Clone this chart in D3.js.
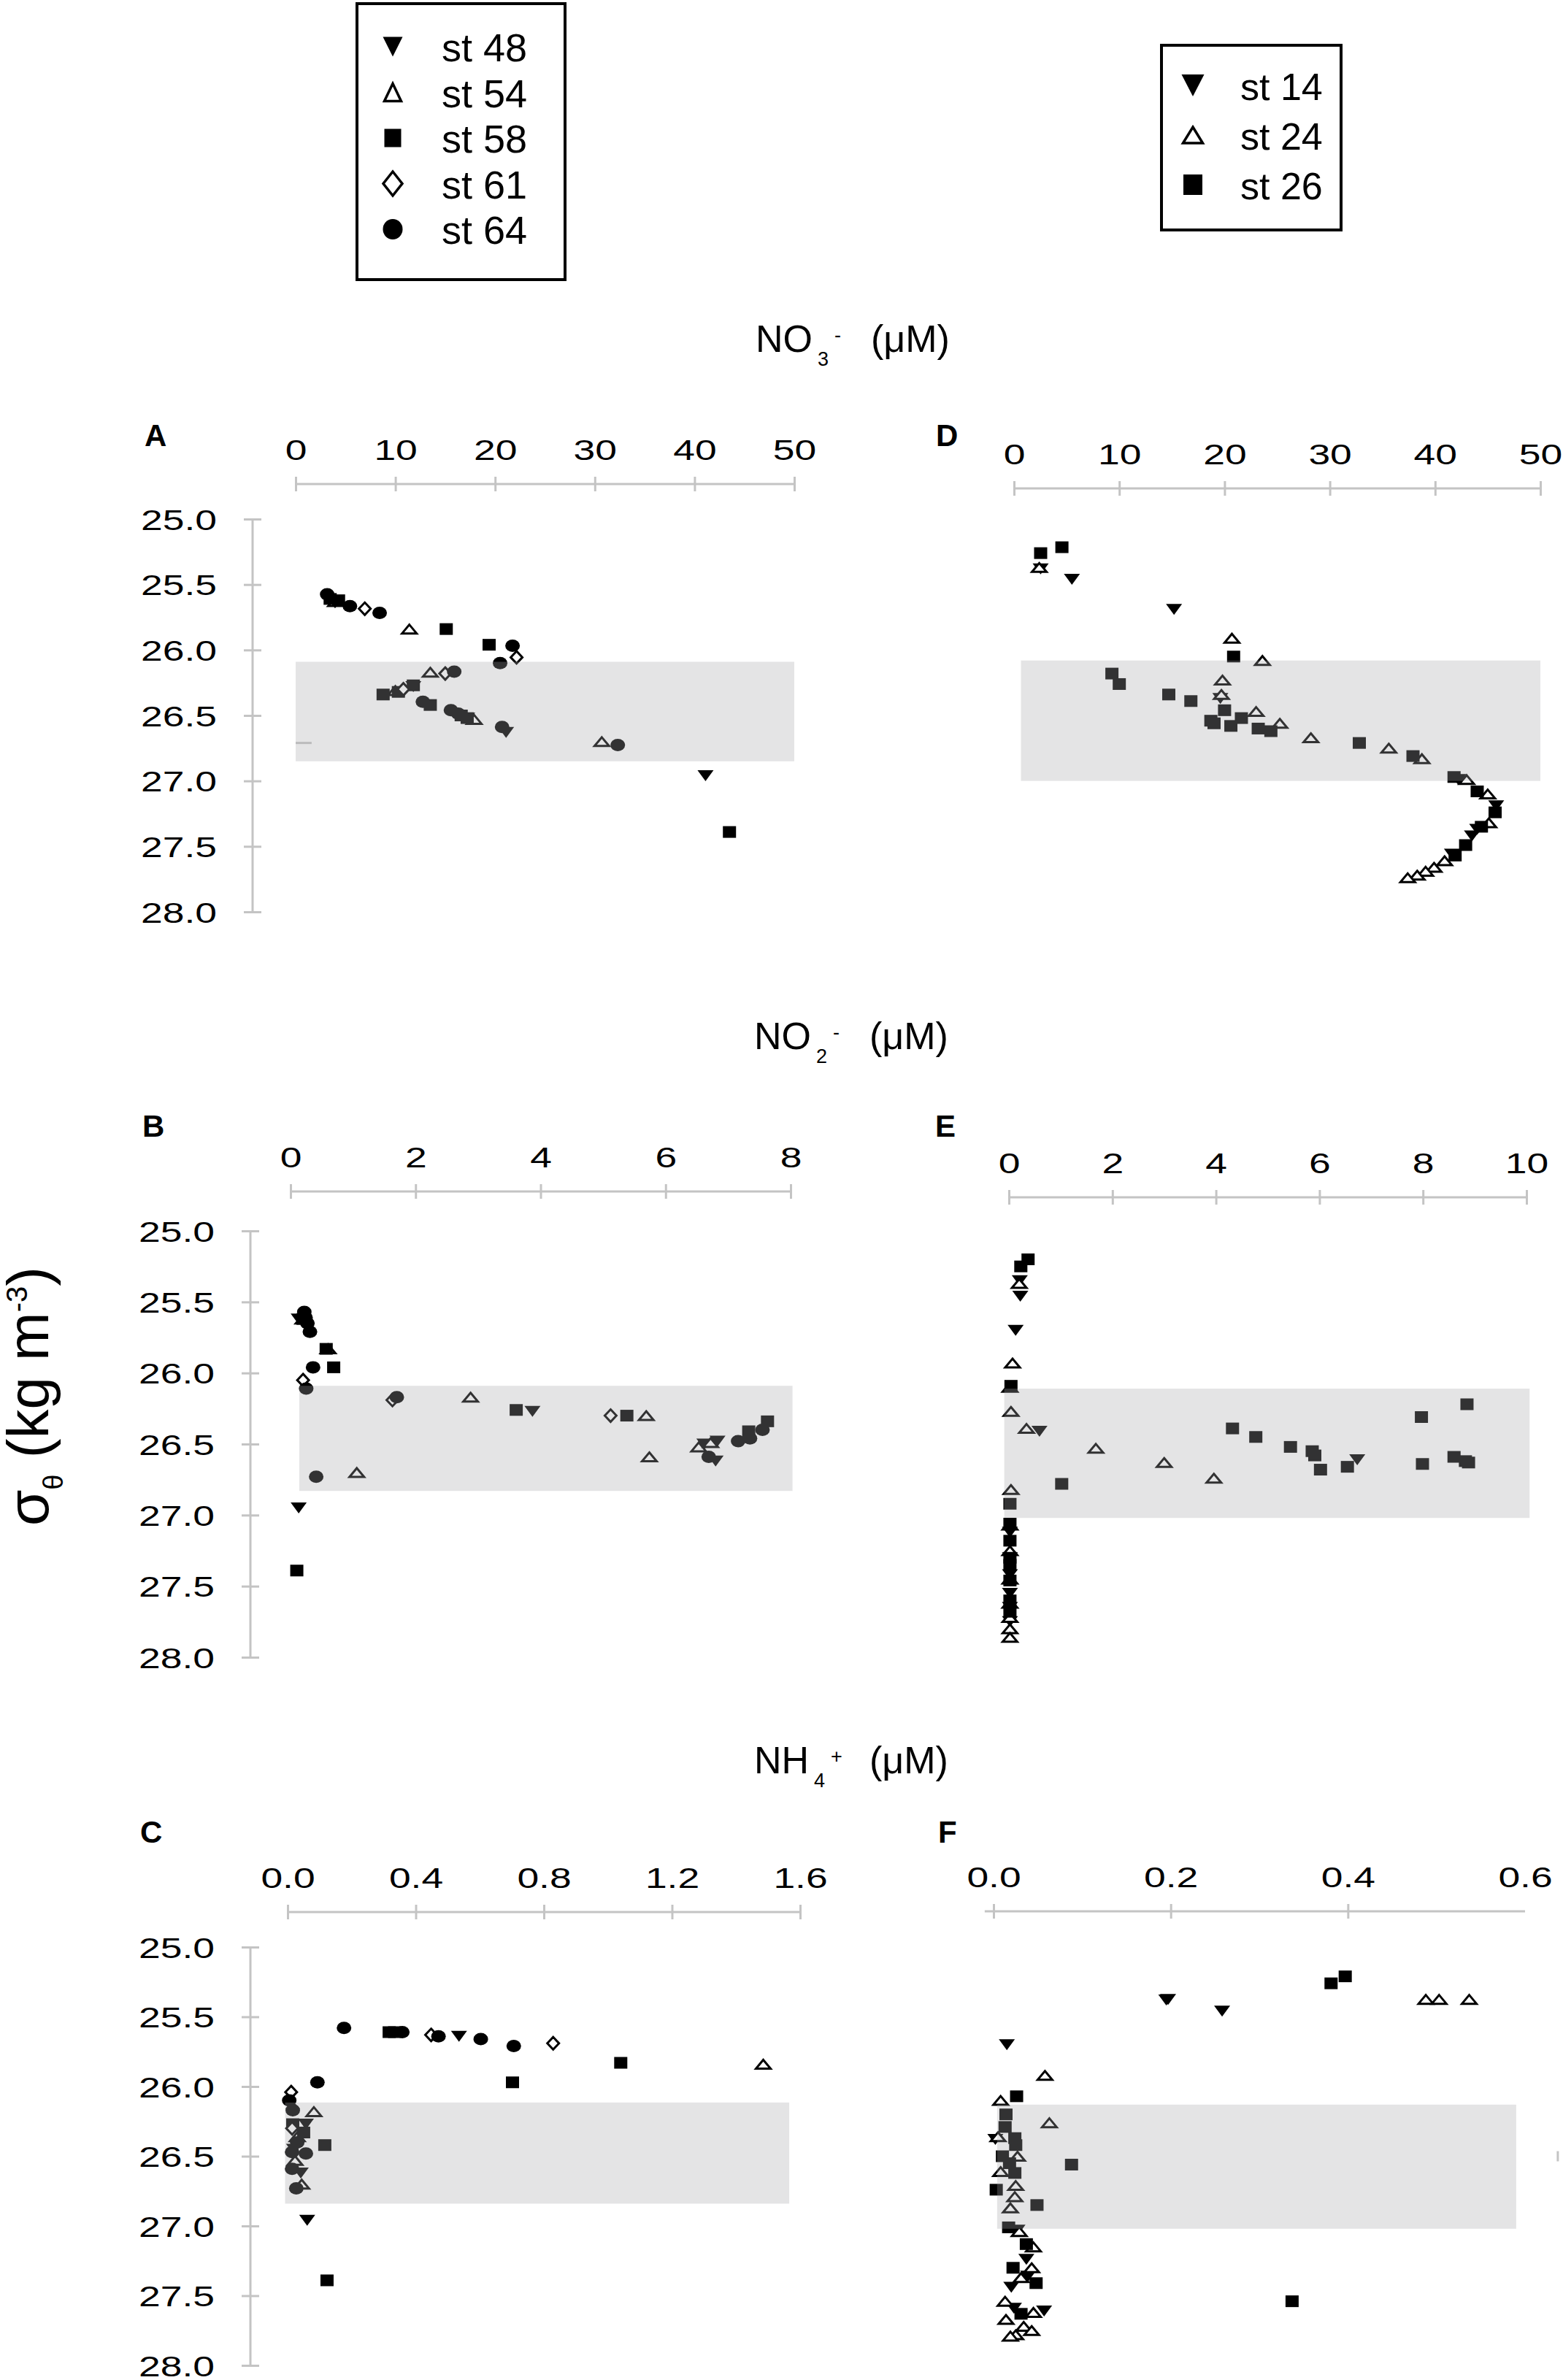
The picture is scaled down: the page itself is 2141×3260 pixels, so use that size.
<!DOCTYPE html>
<html>
<head>
<meta charset="utf-8">
<script src="https://cdn.jsdelivr.net/npm/d3@7"></script>
<style>
body { margin: 0; background: #fff; }
text { font-family: "Liberation Sans", Arial, Helvetica, sans-serif; fill: #000; }
</style>
</head>
<body>
<script>
// ---------- data (x = concentration, y = sigma-theta) ----------
const sigmaTicks = [25.0, 25.5, 26.0, 26.5, 27.0, 27.5, 28.0];
const no3Ticks = [0, 10, 20, 30, 40, 50];
const no2TicksB = [0, 2, 4, 6, 8];
const no2TicksE = [0, 2, 4, 6, 8, 10];
const nh4TicksC = [0, 0.4, 0.8, 1.2, 1.6];
const nh4TicksF = [0, 0.2, 0.4, 0.6];

const legendLeft = ['st 48', 'st 54', 'st 58', 'st 61', 'st 64'];
const legendRight = ['st 14', 'st 24', 'st 26'];

// shaded layer: [xmin, xmax, sigma top, sigma bottom]
const bandA = [0, 50, 26.09, 26.85];
const bandB = [0.14, 8.03, 26.09, 26.83];
const bandC = [-0.008, 1.566, 26.115, 26.84];
const bandD = [0.66, 50, 26.08, 27.0];
const bandE = [-0.09, 10.06, 26.11, 27.02];
const bandF = [0.004, 0.59, 26.13, 27.02];

// panel A: NO3-
const A_st48 = [[3.95,25.64],[11.8,26.28],[17.2,26.52],[21.1,26.63],[41.1,26.96]];
const A_st54 = [[4.0,25.63],[11.4,25.84],[13.5,26.17],[10.0,26.31],[17.9,26.53],[30.7,26.70]];
const A_st58 = [[3.46,25.61],[4.3,25.62],[15.1,25.84],[19.4,25.96],[8.77,26.34],[10.3,26.32],[11.8,26.27],[13.5,26.42],[16.6,26.50],[17.2,26.52],[43.5,27.39]];
const A_st61 = [[6.93,25.685],[22.15,26.056],[15.0,26.18],[10.8,26.30]];
const A_st64 = [[3.16,25.575],[5.44,25.665],[8.42,25.716],[21.75,25.967],[20.5,26.10],[15.9,26.166],[12.76,26.396],[15.57,26.46],[16.3,26.486],[20.7,26.588],[32.3,26.726]];

// panel B: NO2-
const B_st48 = [[0.2,25.64],[0.13,25.62],[3.87,26.27],[6.62,26.50],[6.83,26.48],[6.80,26.62],[0.13,26.95]];
const B_st54 = [[0.2,25.62],[0.6,25.83],[2.88,26.17],[5.69,26.30],[5.74,26.59],[6.53,26.52],[6.72,26.49],[1.06,26.70]];
const B_st58 = [[0.2,25.62],[0.57,25.83],[0.69,25.96],[3.61,26.26],[5.38,26.30],[7.33,26.41],[7.63,26.34],[0.10,27.39]];
const B_st61 = [[0.22,25.60],[0.20,26.05],[1.63,26.19],[5.12,26.30]];
const B_st64 = [[0.22,25.57],[0.24,25.61],[0.27,25.65],[0.31,25.71],[0.36,25.96],[0.25,26.11],[1.70,26.17],[0.41,26.73],[6.69,26.59],[7.16,26.48],[7.35,26.46],[7.55,26.40]];

// panel C: NH4+
const C_st48 = [[0.535,25.64],[0.057,26.27],[0.02,26.45],[0.041,26.62],[0.061,26.96]];
const C_st54 = [[1.485,25.84],[0.082,26.18],[0.03,26.36],[0.023,26.53],[0.044,26.70]];
const C_st58 = [[0.317,25.61],[0.334,25.61],[1.04,25.83],[0.702,25.97],[0.016,26.27],[0.05,26.33],[0.116,26.42],[0.123,27.39]];
const C_st61 = [[0.448,25.63],[0.829,25.69],[0.011,26.04],[0.016,26.16],[0.014,26.30]];
const C_st64 = [[0.176,25.58],[0.358,25.61],[0.471,25.64],[0.603,25.66],[0.706,25.71],[0.093,25.97],[0.005,26.10],[0.016,26.17],[0.03,26.40],[0.014,26.47],[0.057,26.48],[0.014,26.59],[0.027,26.73]];

// panel D: NO3-
const D_st14 = [[2.53,25.38],[5.5,25.46],[15.2,25.69],[19.6,26.37],[42.2,26.99],[45.8,27.19],[44.0,27.37],[43.5,27.42],[41.6,27.56]];
const D_st24 = [[2.4,25.37],[20.7,25.91],[23.6,26.08],[19.8,26.23],[19.7,26.34],[23.0,26.47],[25.25,26.56],[28.2,26.67],[35.6,26.75],[38.75,26.83],[43.0,26.99],[45.0,27.10],[45.1,27.32],[40.9,27.61],[39.9,27.66],[39.1,27.69],[38.3,27.72],[37.4,27.74]];
const D_st26 = [[2.53,25.26],[4.55,25.215],[20.86,26.05],[9.3,26.18],[10.0,26.26],[14.7,26.34],[16.8,26.39],[20.0,26.46],[18.7,26.54],[19.0,26.56],[20.6,26.58],[21.6,26.52],[23.2,26.60],[24.4,26.62],[32.8,26.71],[37.9,26.81],[41.8,26.97],[44.0,27.08],[45.7,27.24],[44.4,27.35],[42.9,27.49],[41.9,27.57]];

// panel E: NO2-
const E_st14 = [[0.21,25.35],[0.22,25.46],[0.13,25.70],[0.59,26.41],[6.73,26.61],[0.02,27.12],[0.02,27.30],[0.02,27.42],[0.02,27.55],[0.02,27.65],[0.02,27.75]];
const E_st24 = [[0.2,25.37],[0.07,25.93],[0.02,26.10],[0.04,26.27],[0.34,26.39],[1.68,26.53],[3.0,26.63],[3.96,26.74],[0.04,26.82],[0.02,27.07],[0.02,27.25],[0.02,27.45],[0.02,27.62],[0.02,27.72],[0.02,27.80],[0.02,27.86]];
const E_st26 = [[0.37,25.20],[0.23,25.25],[0.04,26.09],[4.32,26.39],[4.77,26.45],[5.44,26.52],[5.86,26.55],[5.91,26.58],[6.02,26.68],[6.54,26.66],[7.97,26.31],[8.85,26.22],[7.99,26.64],[8.6,26.59],[8.82,26.62],[8.88,26.63],[1.02,26.78],[0.02,26.92],[0.02,27.06],[0.02,27.18],[0.02,27.30],[0.02,27.35],[0.02,27.46],[0.02,27.60],[0.02,27.68]];

// panel F: NH4+
const F_st14 = [[0.197,25.375],[0.195,25.38],[0.258,25.46],[0.015,25.70],[0.002,26.38],[0.027,27.03],[0.037,27.24],[0.039,27.36],[0.02,27.44],[0.023,27.59],[0.057,27.61]];
const F_st24 = [[0.488,25.375],[0.503,25.375],[0.537,25.375],[0.058,25.92],[0.008,26.10],[0.063,26.26],[0.005,26.36],[0.027,26.50],[0.008,26.61],[0.025,26.71],[0.024,26.79],[0.019,26.87],[0.029,27.04],[0.045,27.15],[0.043,27.30],[0.031,27.37],[0.013,27.54],[0.045,27.62],[0.014,27.67],[0.034,27.72],[0.043,27.75],[0.025,27.78],[0.019,27.79]];
const F_st26 = [[0.381,25.26],[0.397,25.21],[0.026,26.07],[0.014,26.20],[0.013,26.29],[0.024,26.37],[0.025,26.42],[0.01,26.50],[0.018,26.55],[0.024,26.62],[0.088,26.56],[0.003,26.74],[0.049,26.85],[0.017,27.01],[0.037,27.13],[0.022,27.30],[0.048,27.41],[0.031,27.63],[0.337,27.54]];

// ---------- layout ----------
const W = 2141, H = 3260;
const axisGrey = '#c4c4c4';
const stretch = 1.37;   // tick labels in the figure are widened

const svg = d3.select('body').append('svg')
  .attr('width', W).attr('height', H)
  .style('background', '#fff');

function markerPath(shape, w, h) {
  if (shape === 'inv') return `M${-w/2},${-h/2}L${w/2},${-h/2}L0,${h/2}Z`;
  if (shape === 'tri') return `M0,${-h/2}L${w/2},${h/2}L${-w/2},${h/2}Z`;
  if (shape === 'dia') return `M0,${-h/2}L${w/2},0L0,${h/2}L${-w/2},0Z`;
  if (shape === 'sq') return `M${-w/2},${-h/2}h${w}v${h}h${-w}Z`;
  // ellipse
  return `M${-w/2},0a${w/2},${h/2} 0 1,0 ${w},0a${w/2},${h/2} 0 1,0 ${-w},0Z`;
}
const plotSize = {inv:[22,15], tri:[20,12], dia:[16,17], sq:[18,16], cir:[20,17]};
const hollow = {tri:true, dia:true};

const panels = [
  {letter:'A', range:[405,1088], dom:[0,50], ticks:no3Ticks, fmt:d3.format('d'), yr:[711,1249], axisY:663, yAxisX:346, lab:[198,611], band:bandA,
   series:[['inv',A_st48],['tri',A_st54],['sq',A_st58],['dia',A_st61],['cir',A_st64]], stray:[0, 1.6, 26.71]},
  {letter:'B', range:[398,1083], dom:[0,8], ticks:no2TicksB, fmt:d3.format('d'), yr:[1686,2270], axisY:1632, yAxisX:343, lab:[195,1557], band:bandB,
   series:[['inv',B_st48],['tri',B_st54],['sq',B_st58],['dia',B_st61],['cir',B_st64]]},
  {letter:'C', range:[394,1096], dom:[0,1.6], ticks:nh4TicksC, fmt:d3.format('.1f'), yr:[2667,3240], axisY:2619, yAxisX:343, lab:[192,2524], band:bandC,
   series:[['inv',C_st48],['tri',C_st54],['sq',C_st58],['dia',C_st61],['cir',C_st64]]},
  {letter:'D', range:[1389,2110], dom:[0,50], ticks:no3Ticks, fmt:d3.format('d'), yr:[711,1249], axisY:669, lab:[1282,611], band:bandD,
   series:[['inv',D_st14],['tri',D_st24],['sq',D_st26]]},
  {letter:'E', range:[1382,2091], dom:[0,10], ticks:no2TicksE, fmt:d3.format('d'), yr:[1686,2270], axisY:1640, lab:[1281,1557], band:bandE,
   series:[['inv',E_st14],['tri',E_st24],['sq',E_st26]]},
  {letter:'F', range:[1361,2089], dom:[0,0.6], ticks:nh4TicksF, fmt:d3.format('.1f'), yr:[2667,3240], axisY:2618, lab:[1285,2524], band:bandF,
   series:[['inv',F_st14],['tri',F_st24],['sq',F_st26]], axisExt:[-0.01,0.6], noTickLine:[0.6], straySide:[0.637, 26.5]}
];

panels.forEach(p => {
  const x = d3.scaleLinear().domain(p.dom).range(p.range);
  const y = d3.scaleLinear().domain([25, 28]).range(p.yr);
  const g = svg.append('g');

  // top axis
  const ext = p.axisExt || p.dom;
  g.append('line')
    .attr('x1', x(ext[0])).attr('x2', x(ext[1]))
    .attr('y1', p.axisY).attr('y2', p.axisY)
    .attr('stroke', axisGrey).attr('stroke-width', 3);
  const ax = g.append('g').attr('transform', `translate(0,${p.axisY})`)
    .call(d3.axisTop(x).tickValues(p.ticks).tickFormat(p.fmt).tickSize(10).tickPadding(23).tickSizeOuter(0));
  ax.select('.domain').remove();
  ax.selectAll('.tick line').attr('y1', 10).attr('stroke', axisGrey).attr('stroke-width', 3)
    .filter(d => (p.noTickLine || []).includes(d)).remove();
  ax.selectAll('.tick text').attr('font-size', 39).attr('fill', '#000')
    .attr('font-family', '"Liberation Sans", Arial, sans-serif')
    .attr('transform', `scale(${stretch},1)`);

  // left axis (only left column)
  if (p.yAxisX) {
    g.append('line')
      .attr('x1', p.yAxisX).attr('x2', p.yAxisX)
      .attr('y1', y(25)).attr('y2', y(28))
      .attr('stroke', axisGrey).attr('stroke-width', 3);
    const ay = g.append('g').attr('transform', `translate(${p.yAxisX},0)`)
      .call(d3.axisLeft(y).tickValues(sigmaTicks).tickFormat(d3.format('.1f')).tickSize(12).tickSizeOuter(0));
    ay.select('.domain').remove();
    ay.selectAll('.tick line').attr('x1', 12).attr('stroke', axisGrey).attr('stroke-width', 3);
    ay.selectAll('.tick text').attr('font-size', 39).attr('fill', '#000')
      .attr('font-family', '"Liberation Sans", Arial, sans-serif')
      .attr('x', -49 / stretch).attr('dy', '0.36em')
      .attr('transform', `scale(${stretch},1)`);
  }

  // stray tick remnants seen in the figure
  if (p.stray) {
    g.append('line').attr('x1', x(p.stray[0])).attr('x2', x(p.stray[1]))
      .attr('y1', y(p.stray[2])).attr('y2', y(p.stray[2]))
      .attr('stroke', axisGrey).attr('stroke-width', 3);
  }
  if (p.straySide) {
    g.append('line').attr('x1', x(p.straySide[0])).attr('x2', x(p.straySide[0]))
      .attr('y1', y(p.straySide[1]) - 7).attr('y2', y(p.straySide[1]) + 7)
      .attr('stroke', axisGrey).attr('stroke-width', 3);
  }

  // panel letter
  g.append('text').attr('x', p.lab[0]).attr('y', p.lab[1])
    .attr('font-size', 42).attr('font-weight', 'bold').text(p.letter);

  // markers
  p.series.forEach(([shape, pts]) => {
    const [w, h] = plotSize[shape];
    g.append('g').selectAll('path')
      .data(pts)
      .enter()
      .append('path')
      .attr('d', markerPath(shape, w, h))
      .attr('transform', d => `translate(${x(d[0])},${y(d[1])})`)
      .attr('fill', hollow[shape] ? '#fff' : '#000')
      .attr('stroke', hollow[shape] ? '#000' : 'none')
      .attr('stroke-width', 3)
      .attr('stroke-linejoin', 'miter');
  });

  // translucent shaded layer drawn over the markers
  g.append('rect')
    .attr('x', x(p.band[0])).attr('width', x(p.band[1]) - x(p.band[0]))
    .attr('y', y(p.band[2])).attr('height', y(p.band[3]) - y(p.band[2]))
    .attr('fill', '#a6a6aa').attr('fill-opacity', 0.3);
});

// ---------- titles ----------
function chemTitle(x0, yb, main, sub, sup) {
  const t = svg.append('text').attr('x', x0).attr('y', yb).attr('font-size', 52);
  t.append('tspan').text(main);
  const mw = main === 'NO' ? 78 : 75;
  t.append('tspan').attr('x', x0 + mw + 7).attr('dy', 19).attr('font-size', 27).text(sub);
  t.append('tspan').attr('x', x0 + mw + 30).attr('dy', -33).attr('font-size', 27).text(sup);
  t.append('tspan').attr('x', x0 + 158).attr('dy', 14).attr('font-size', 52).text('(\u03BCM)');
}
chemTitle(1035, 482, 'NO', '3', '-');
chemTitle(1033, 1437, 'NO', '2', '-');
chemTitle(1033, 2429, 'NH', '4', '+');

// ---------- sigma-theta axis title ----------
const st = svg.append('text')
  .attr('transform', 'translate(66,2090) rotate(-90)')
  .attr('font-size', 80);
st.append('tspan').text('\u03C3');
st.append('tspan').attr('font-size', 38).attr('dy', 20).text('\u03B8');
st.append('tspan').attr('font-size', 80).attr('dy', -20).text(' (kg m');
st.append('tspan').attr('font-size', 40).attr('dy', -29).text('-3');
st.append('tspan').attr('font-size', 80).attr('dy', 29).text(')');

// ---------- legends ----------
function legend(box, labels, shapes, mx, tx, rows, fs, sizes) {
  svg.append('rect')
    .attr('x', box[0]).attr('y', box[1])
    .attr('width', box[2] - box[0]).attr('height', box[3] - box[1])
    .attr('fill', '#fff').attr('stroke', '#000').attr('stroke-width', 4);
  const ry = d3.scalePoint().domain(labels).range(rows);
  labels.forEach((lab, i) => {
    const shape = shapes[i];
    const [w, h] = sizes[shape];
    svg.append('path')
      .attr('d', markerPath(shape, w, h))
      .attr('transform', `translate(${mx},${ry(lab)})`)
      .attr('fill', hollow[shape] ? '#fff' : '#000')
      .attr('stroke', hollow[shape] ? '#000' : 'none')
      .attr('stroke-width', 3.5);
    svg.append('text').attr('x', tx).attr('y', ry(lab) + 20)
      .attr('font-size', fs).text(lab);
  });
}
legend([489, 5, 774, 383], legendLeft, ['inv','tri','sq','dia','cir'], 538, 605, [64, 314], 54,
  {inv:[27,27], tri:[23,24], sq:[23,25], dia:[26,33], cir:[27,28]});
legend([1591, 62, 1837, 315], legendRight, ['inv','tri','sq'], 1634, 1699, [117, 253], 52,
  {inv:[31,30], tri:[27,22], sq:[26,28]});
</script>
</body>
</html>
